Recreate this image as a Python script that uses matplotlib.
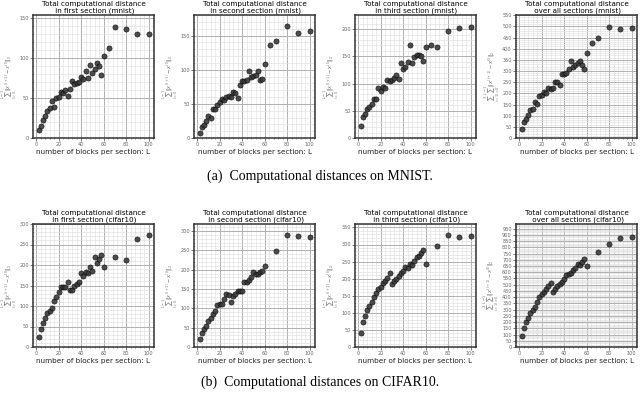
import matplotlib
matplotlib.use("Agg")
import matplotlib.pyplot as plt
from matplotlib.ticker import MultipleLocator

# x values (number of blocks per section)
L_mnist = [2, 4, 6, 8, 10, 12, 14, 16, 18, 20, 22, 24, 26, 28, 30, 32, 34, 36, 38, 40,
           42, 44, 46, 48, 50, 52, 54, 56, 58, 60, 65, 70, 80, 90, 100]
L_cifar = [2, 4, 6, 8, 10, 12, 14, 16, 18, 20, 22, 24, 26, 28, 30, 32, 34, 36, 38, 40,
           42, 44, 46, 48, 50, 52, 54, 56, 58, 60, 70, 80, 90, 100]

# MNIST
mnist_first = [10.5, 15.5, 23, 28, 34, 37, 46, 39, 50, 51.5, 57, 56, 60, 53, 61, 71, 67, 69, 69.5, 76,
               74, 84, 75, 91, 82, 86, 94, 90, 79.5, 103, 112.5, 139, 137, 130, 130]
mnist_second = [8, 16, 19.5, 24.5, 32, 30, 43, 42, 48, 53, 57, 55, 60, 62, 60, 67, 66, 59, 77, 83,
                84, 85, 98.5, 89, 91, 92, 97.5, 85, 86, 109, 136, 142.5, 163.5, 153, 156]
mnist_third = [22, 38.5, 44, 53, 57, 62, 72, 71, 92, 86.5, 93, 91.5, 107, 105.5, 107, 111, 116.5, 109, 138.5, 127,
               130.5, 139, 170.5, 137, 149, 152, 153, 150, 141.5, 167.5, 171, 167, 197, 202, 204]
mnist_all = [42, 70, 87, 105, 124, 129, 162, 153, 190, 192, 207, 201, 226, 220, 226, 250, 251, 238, 286, 286,
             289, 311, 344, 319, 325, 334, 344, 326, 307, 382, 424, 450, 498, 488, 491]

# CIFAR10
cifar_first = [24.5, 43, 59, 70.5, 82, 88.5, 94, 112, 121, 134, 147, 147, 147, 158, 140, 140, 150, 153, 158, 179.5,
               174, 183.5, 180, 196, 185, 219, 204, 215.5, 225.5, 194, 219, 211.5, 264, 273]
cifar_second = [21.5, 36, 47.5, 55, 66.5, 75, 84.5, 92.5, 108, 111.5, 112, 125, 138, 134, 116, 131, 136.5, 144, 143.5, 146,
                167, 167, 172, 180, 193.5, 187.5, 190, 194.5, 197, 209, 248, 290, 288, 284]
cifar_third = [42, 73, 91, 107, 120, 132, 145, 159, 169, 176.5, 186, 194, 202, 218, 185, 192, 200, 207, 216.5, 223,
               234, 231, 243, 241, 252.5, 263, 265, 275, 285, 244, 295.5, 327, 323, 326]
cifar_all = [88, 152, 198, 233, 269, 296, 324, 364, 398, 422, 445, 466, 487, 510, 441, 463, 487, 504, 518, 549,
             575, 582, 595, 617, 631, 670, 659, 685, 707, 647, 763, 828, 875, 883]

titles = ["Total computational distance\n in first section ({})",
          "Total computational distance\n in second section ({})",
          "Total computational distance\n in third section ({})",
          "Total computational distance\n over all sections ({})"]

ylab_sec = r"$\sum_{l=0}^{L-1}\|x^{(l+1)}-x^{(l)}\|_2$"
ylab_all = r"$\sum_{i=1}^{3}\sum_{l=0}^{L-1}\|x^{(l+1)}-x^{(l)}\|_2$"

# (ymax, major step, minor step) per panel
rows = [("mnist", L_mnist, [mnist_first, mnist_second, mnist_third, mnist_all],
         [(154, 50, 10), (180, 50, 10), (226, 50, 10), (551, 50, 10)]),
        ("cifar10", L_cifar, [cifar_first, cifar_second, cifar_third, cifar_all],
         [(300, 50, 10), (318, 50, 10), (360, 50, 10), (987, 50, 10)])]

fig = plt.figure(figsize=(6.4, 3.93), dpi=100)

lefts = [33, 194, 355, 516]
bottoms = [393 - 138, 393 - 347]

for r, (name, L, series, lims) in enumerate(rows):
    for c in range(4):
        ax = fig.add_axes([lefts[c] / 640, bottoms[r] / 393, 121 / 640, 123 / 393])
        ax.scatter(L, series[c], s=14, color="#3a3a3a", edgecolors="black",
                   linewidths=0.4, alpha=0.9, zorder=3)
        ymax, step, mstep = lims[c]
        ax.set_xlim(-2.9, 104.9)
        ax.set_ylim(0, ymax)
        ax.xaxis.set_major_locator(MultipleLocator(20))
        ax.xaxis.set_minor_locator(MultipleLocator(4))
        ax.yaxis.set_major_locator(MultipleLocator(step))
        ax.yaxis.set_minor_locator(MultipleLocator(mstep))
        ax.grid(True, which="major", color="#b0b0b0", linewidth=0.7)
        ax.grid(True, which="minor", color="#dcdcdc", linewidth=0.4)
        ax.set_axisbelow(True)
        ax.tick_params(which="major", labelsize=3.6, labelcolor="#666666",
                       length=2, width=0.5, color="#444444", pad=1)
        ax.tick_params(which="minor", length=1, width=0.4, color="#444444")
        for sp in ax.spines.values():
            sp.set_color("#333333")
            sp.set_linewidth(1.1)
        ax.set_title(titles[c].format(name), fontsize=5.2, pad=2, linespacing=1.0)
        ax.set_xlabel("number of blocks per section: L", fontsize=5.2, labelpad=1.5,
                      color="#222222")
        ax.set_ylabel(ylab_all if c == 3 else ylab_sec, fontsize=3.6, color="#777777",
                      labelpad=0.5)

fig.text(0.5, 1 - 176 / 393, "(a)  Computational distances on MNIST.",
         ha="center", va="center", fontsize=10, family="Liberation Serif")
fig.text(0.5, 1 - 382 / 393, "(b)  Computational distances on CIFAR10.",
         ha="center", va="center", fontsize=10, family="Liberation Serif")

fig.savefig("out.png", dpi=100)
